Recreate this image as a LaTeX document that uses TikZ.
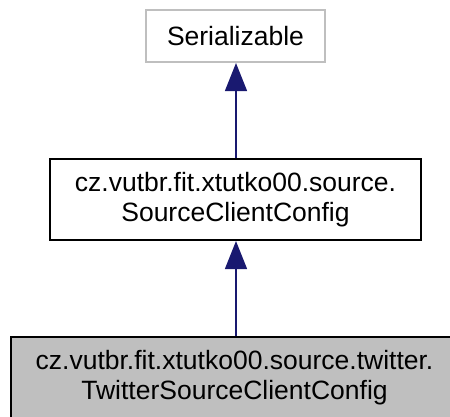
\documentclass[tikz,border=0pt]{standalone}
\usepackage{fontspec}
\setmainfont{Liberation Sans}
\usetikzlibrary{arrows.meta}
\definecolor{edgeblue}{HTML}{191970}
\definecolor{boxgray}{HTML}{BFBFBF}
\definecolor{fillgray}{HTML}{BFBFBF}
\tikzset{
  cls/.style={draw=black, line width=2pt, rectangle, inner sep=0pt, align=center,
    font=\fontsize{26.5}{30}\selectfont},
  inherit/.style={draw=edgeblue, line width=1.5pt, -{Triangle[width=22pt,length=28pt]}}
}
\begin{document}
\begin{tikzpicture}[x=1pt, y=-1pt]
\useasboundingbox (0,0) rectangle (450,416);
\node[cls, draw=boxgray, minimum width=179pt, minimum height=52pt] (ser) at (235.5,36) {Serializable};
\node[cls, minimum width=371pt, minimum height=81pt] (scc) at (235.5,199.5) {cz.vutbr.fit.xtutko00.source.\\SourceClientConfig};
\node[cls, fill=fillgray, minimum width=447pt, minimum height=81pt] (tscc) at (234.5,377.5) {cz.vutbr.fit.xtutko00.source.twitter.\\TwitterSourceClientConfig};
\draw[inherit] (scc.north -| 236,0) -- (ser.south -| 236,0);
\draw[inherit] (tscc.north -| 236,0) -- (scc.south -| 236,0);
\end{tikzpicture}
\end{document}
